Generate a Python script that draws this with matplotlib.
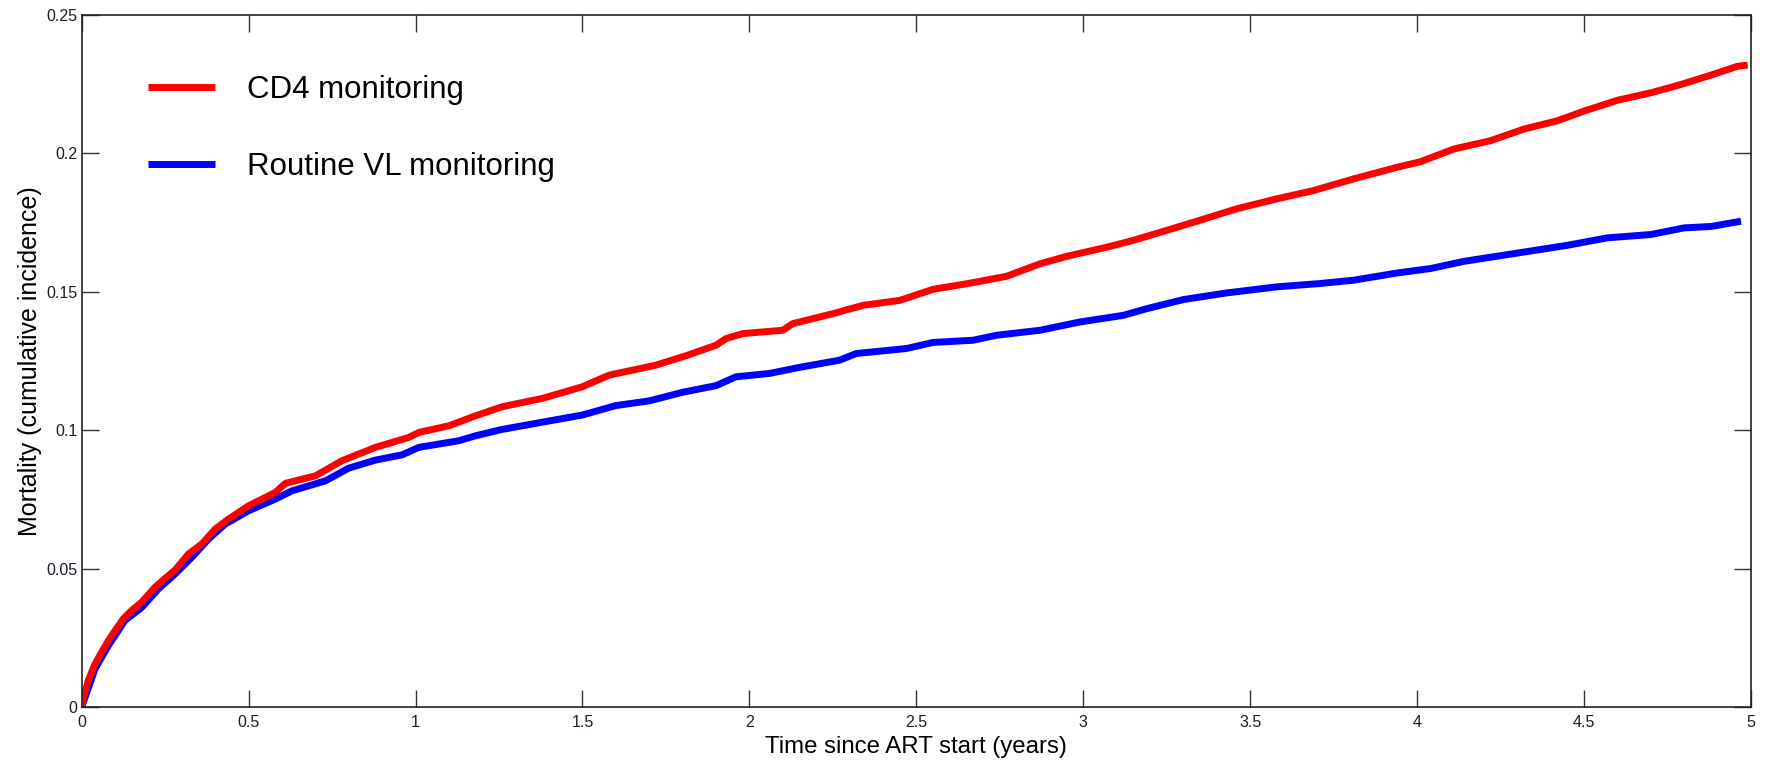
import matplotlib
matplotlib.use('Agg')
import matplotlib.pyplot as plt

# cumulative incidence of death
t_cd4 = [0, 0.005, 0.02, 0.04, 0.06, 0.08, 0.10, 0.125, 0.15, 0.18, 0.22, 0.26, 0.28, 0.32,
         0.36, 0.40, 0.44, 0.50, 0.58, 0.61, 0.70, 0.78, 0.88, 0.98, 1.01, 1.10, 1.18, 1.26,
         1.38, 1.50, 1.58, 1.72, 1.81, 1.90, 1.93, 1.98, 2.10, 2.13, 2.25, 2.34, 2.45, 2.55,
         2.66, 2.77, 2.87, 2.95, 3.07, 3.15, 3.25, 3.34, 3.46, 3.58, 3.69, 3.81, 3.94, 4.01,
         4.11, 4.22, 4.32, 4.42, 4.50, 4.60, 4.70, 4.79, 4.87, 4.96, 4.99]
cd4 = [0, 0.003, 0.0096, 0.0156, 0.0198, 0.024, 0.0276, 0.0319, 0.0349, 0.0379, 0.0433,
       0.0475, 0.0495, 0.0553, 0.0589, 0.0643, 0.0679, 0.0727, 0.0775, 0.0808, 0.0835,
       0.089, 0.0938, 0.0974, 0.0992, 0.1016, 0.1052, 0.1085, 0.1115, 0.1157, 0.1199,
       0.1235, 0.1269, 0.1307, 0.1331, 0.1349, 0.1361, 0.1385, 0.1421, 0.1451, 0.1469,
       0.1509, 0.1531, 0.1556, 0.1601, 0.1628, 0.1661, 0.1686, 0.1722, 0.1755, 0.18,
       0.1836, 0.1866, 0.1908, 0.195, 0.197, 0.2016, 0.2046, 0.2088, 0.2118, 0.2153,
       0.2192, 0.2219, 0.2249, 0.2279, 0.2315, 0.2319]

t_vl = [0, 0.04, 0.08, 0.13, 0.18, 0.23, 0.28, 0.33, 0.38, 0.43, 0.50, 0.58, 0.63, 0.73,
        0.80, 0.88, 0.96, 1.01, 1.08, 1.13, 1.18, 1.26, 1.38, 1.50, 1.60, 1.70, 1.80, 1.90,
        1.96, 2.06, 2.15, 2.27, 2.32, 2.47, 2.55, 2.67, 2.74, 2.87, 2.99, 3.12, 3.19, 3.30,
        3.43, 3.58, 3.71, 3.81, 3.94, 4.04, 4.14, 4.29, 4.45, 4.57, 4.70, 4.80, 4.88, 4.97]
vl = [0, 0.0138, 0.0222, 0.0313, 0.036, 0.0427, 0.0481, 0.0541, 0.0607, 0.0661, 0.0709,
      0.0751, 0.0781, 0.0817, 0.0863, 0.0892, 0.0911, 0.0938, 0.0952, 0.0962, 0.098,
      0.1003, 0.1029, 0.1055, 0.1089, 0.1106, 0.1137, 0.1161, 0.1193, 0.1205, 0.1227,
      0.1253, 0.1277, 0.1295, 0.1317, 0.1325, 0.1343, 0.1361, 0.1391, 0.1415, 0.1439,
      0.1472, 0.1496, 0.1518, 0.153, 0.1542, 0.1568, 0.1584, 0.161, 0.1638, 0.1668,
      0.1695, 0.1707, 0.1731, 0.1736, 0.1755]

x_ticks = [0, 0.5, 1, 1.5, 2, 2.5, 3, 3.5, 4, 4.5, 5]
x_labels = ['0', '0.5', '1', '1.5', '2', '2.5', '3', '3.5', '4', '4.5', '5']
y_ticks = [0, 0.05, 0.1, 0.15, 0.2, 0.25]
y_labels = ['0', '0.05', '0.1', '0.15', '0.2', '0.25']

plt.rcParams['font.family'] = ['Liberation Sans', 'DejaVu Sans']

fig = plt.figure(figsize=(17.68, 7.62), dpi=100)
ax1 = fig.add_axes([0.0462, 0.0722, 0.9442, 0.9081])

l_vl, = ax1.plot(t_vl, vl, color='#0000ff', lw=5, solid_capstyle='butt')
l_cd4, = ax1.plot(t_cd4, cd4, color='#ff0000', lw=5, solid_capstyle='butt')

ax1.set_xlim(0, 5)
ax1.set_ylim(0, 0.25)
ax1.set_xticks(x_ticks)
ax1.set_xticklabels(x_labels)
ax1.set_yticks(y_ticks)
ax1.set_yticklabels(y_labels)
ax1.tick_params(direction='in', length=12.5, width=1, color='#333333',
                top=True, right=True, labelsize=11.5, labelcolor='#1c1c2c')
ax1.tick_params(axis='x', pad=6)
ax1.tick_params(axis='y', pad=3)
for s in ax1.spines.values():
    s.set_linewidth(1.2)
    s.set_color('#222222')

ax1.set_xlabel('Time since ART start (years)', fontsize=17.3, labelpad=4)
ax1.set_ylabel('Mortality (cumulative incidence)', fontsize=18, labelpad=3)

ax1.legend([l_cd4, l_vl], ['CD4 monitoring', 'Routine VL monitoring'],
           loc='upper left', bbox_to_anchor=(0.040, 0.913), frameon=False,
           fontsize=22.5, handlelength=2.14, handletextpad=1.0, labelspacing=1.5,
           borderpad=0, borderaxespad=0)

plt.savefig('out.png', dpi=100)
